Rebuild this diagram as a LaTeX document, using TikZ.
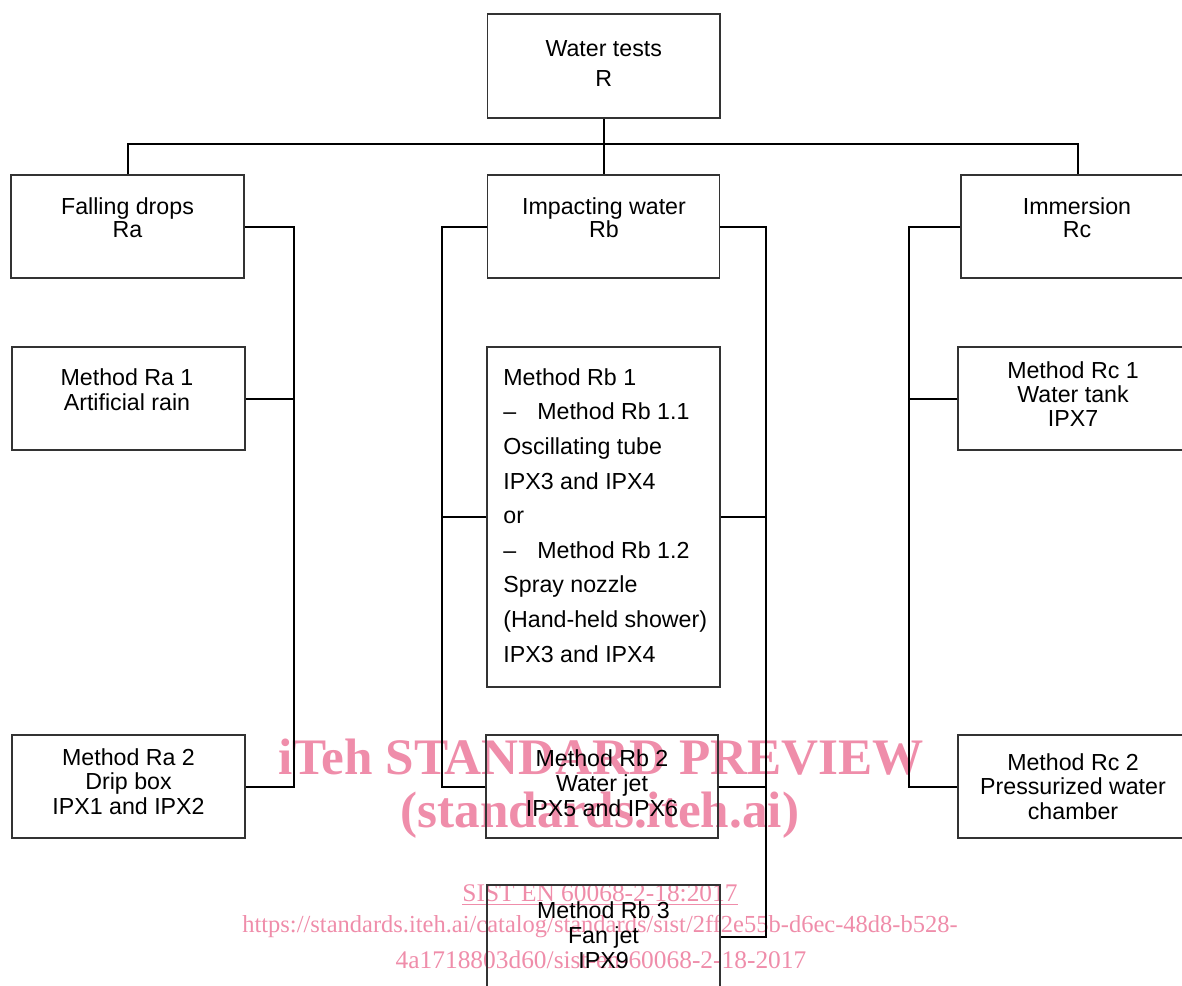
\documentclass[tikz,border=0pt]{standalone}
\usepackage{fontspec}
\setmainfont{Liberation Sans}
\newfontfamily\wmfont{Liberation Serif}
\definecolor{wm}{RGB}{239,141,170}
\begin{document}
\begin{tikzpicture}[x=0.5pt,y=-0.5pt,
  box/.style={draw=black!80, line width=0.6pt, minimum width=116.5pt, minimum height=51.5pt, inner sep=0pt},
  conn/.style={line width=1pt},
  lbl/.style={anchor=north, align=center, inner sep=0pt},
  wmbig/.style={text=wm, inner sep=0pt, font=\wmfont\bfseries\fontsize{25.6}{28}\selectfont},
  wmsmall/.style={text=wm, inner sep=0pt, font=\wmfont\fontsize{12.7}{14}\selectfont}]
\useasboundingbox (0,0) rectangle (1182,985);
\clip (0,0) rectangle (1182,985);
% watermark
\node[wmbig] (wm1) at (601,757) {iTeh STANDARD PREVIEW};
\node[wmbig] (wm2) at (600,815) {(standards.iteh.ai)};
\node[wmsmall] (wm3) at (600,895) {\underline{SIST EN 60068-2-18:2017}};
\node[wmsmall, font=\wmfont\fontsize{12.25}{14}\selectfont] (wm4) at (600,927) {https://standards.iteh.ai/catalog/standards/sist/2ff2e55b-d6ec-48d8-b528-};
\node[wmsmall] (wm5) at (601,960) {4a1718803d60/sist-en-60068-2-18-2017};
% boxes
\node[box, minimum width=116.25pt, minimum height=52pt] (top) at (603.75,66) {};
\node[box] (fd) at (127.5,226.5) {};
\node[box, minimum width=116pt] (iw) at (603.75,226.5) {};
\node[box] (im) at (1077.5,226.5) {};
\node[box] (ra1) at (128.5,398.5) {};
\node[box] (ra2) at (128.5,786.5) {};
\node[box, minimum height=170pt] (rb1) at (603.5,517) {};
\node[box, minimum width=116pt] (rb2) at (602,786.5) {};
\node[box] (rb3) at (603.5,936.5) {};
\node[box] (rc1) at (1074.5,398.5) {};
\node[box] (rc2) at (1074.5,786.5) {};
% labels
\node[lbl, font=\fontsize{11.6}{15}\selectfont] (ttop) at (603.75,40) {Water tests\\R};
\node[lbl, font=\fontsize{11.6}{11.5}\selectfont] (tfd) at (127.5,197) {Falling drops\\Ra};
\node[lbl, font=\fontsize{11.6}{11.5}\selectfont] (tiw) at (604,197) {Impacting water\\Rb};
\node[lbl, font=\fontsize{11.6}{11.5}\selectfont] (tim) at (1077,197) {Immersion\\Rc};
\node[lbl, font=\fontsize{11.6}{12.5}\selectfont] (tra1) at (127,368) {Method Ra 1\\Artificial rain};
\node[lbl, font=\fontsize{11.6}{12.25}\selectfont] (tra2) at (128.5,748) {Method Ra 2\\Drip box\\IPX1 and IPX2};
\node[anchor=north west, align=left, inner sep=0pt, font=\fontsize{11.6}{17.3}\selectfont] (trb1) at (503,368)
  {Method Rb 1\\–\hspace{10.5pt}Method Rb 1.1\\Oscillating tube\\IPX3 and IPX4\\or\\–\hspace{10.5pt}Method Rb 1.2\\Spray nozzle\\(Hand-held shower)\\IPX3 and IPX4};
\node[lbl, font=\fontsize{11.6}{12.5}\selectfont] (trb2) at (602,749) {Method Rb 2\\Water jet\\IPX5 and IPX6};
\node[lbl, font=\fontsize{11.6}{12.5}\selectfont] (trb3) at (603.5,901) {Method Rb 3\\Fan jet\\IPX9};
\node[lbl, font=\fontsize{11.6}{12}\selectfont] (trc1) at (1073,361) {Method Rc 1\\Water tank\\IPX7};
\node[lbl, font=\fontsize{11.6}{12.25}\selectfont] (trc2) at (1073,753) {Method Rc 2\\Pressurized water\\chamber};
% connectors
\coordinate (bus) at (603.75,144);
\draw[conn] (top.south) -- (iw.north);
\draw[conn] (fd.north) |- (bus) -| (im.north);
\draw[conn] (fd.east) -- ++(49,0) |- (ra2.east);
\draw[conn] (ra1.east) -- ++(48,0);
\draw[conn] (iw.west) -- ++(-45,0) |- (rb2.west);
\draw[conn] (rb1.west) -- ++(-44,0);
\draw[conn] (iw.east) -- ++(45.5,0) |- (rb3.east);
\draw[conn] (rb1.east) -- ++(45.5,0);
\draw[conn] (rb2.east) -- ++(47.5,0);
\draw[conn] (im.west) -- ++(-51,0) |- (rc2.west);
\draw[conn] (rc1.west) -- ++(-48,0);
\end{tikzpicture}
\end{document}
